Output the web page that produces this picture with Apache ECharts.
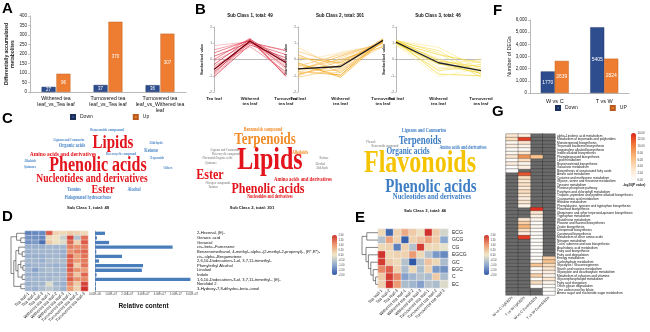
<!DOCTYPE html>
<html><head><meta charset="utf-8">
<script src="https://cdn.jsdelivr.net/npm/echarts@6/dist/echarts.min.js"></script>
<style>html,body{margin:0;padding:0;background:#fff}#c{width:650px;height:332px}</style>
</head><body><div id="c"></div>
<script>
// ---------------- DATA ----------------
const aCategories = ['Withered tea\nleaf_vs_Tea leaf', 'Turnovered tea\nleaf_vs_Tea leaf', 'Turnovered tea\nleaf_vs_Withered tea\nleaf'];
const aDown = [27, 37, 36];
const aUp = [96, 370, 307];

const bStages = ['Tea leaf', 'Withered\ntea leaf', 'Turnovered\ntea leaf'];
const bTitles = ['Sub Class 1, total: 49', 'Sub Class 2, total: 301', 'Sub Class 3, total: 46'];
const bSub1Lines = [[0.85,1.10,-0.30],[0.60,1.15,-0.20],[0.40,1.20,-0.50],[0.20,1.05,0.55],[-0.10,1.00,0.55],[-0.30,1.25,-0.10],[-0.50,1.10,-0.60],[-0.60,1.15,-0.85],[-0.75,1.00,0.30],[-0.85,1.20,-1.00],[-0.95,1.05,-0.40],[-1.05,0.90,0.10],[-1.10,1.15,-0.95],[-0.40,0.80,-0.75],[0.00,1.30,-1.05]];
const bSub1Mean = [-0.62, 1.12, -0.20];
const bSub2Lines = [[0.75,-0.60,0.85],[0.50,-0.30,1.00],[0.30,-0.80,1.10],[0.10,-0.20,1.15],[-0.10,0.40,0.95],[-0.30,-1.00,1.25],[-0.45,-0.45,1.15],[-0.55,-0.70,1.20],[-0.65,0.20,1.05],[-0.75,-0.95,1.25],[-0.85,0.45,0.90],[-0.95,-0.10,1.10],[-1.05,0.10,1.00],[-1.10,-0.55,1.20],[-0.90,-0.35,1.28],[-0.20,-1.10,1.15],[0.20,-0.65,0.80],[-0.60,0.00,0.78],[-0.80,-0.80,1.22],[-0.40,0.30,1.00]];
const bSub2Mean = [-0.58, -0.43, 1.18];
const bSub3Lines = [[1.15,0.75,-0.60],[1.10,0.55,-0.90],[1.05,0.30,-0.20],[1.00,0.10,-1.05],[1.20,-0.10,-0.45],[0.95,-0.30,0.00],[1.10,-0.50,-0.75],[1.05,-0.70,-0.30],[1.15,-0.90,-1.00],[0.90,-1.05,-0.55],[1.00,-0.25,-0.85],[1.20,0.40,-1.10],[0.88,-0.60,-0.10],[1.12,0.00,-0.65]];
const bSub3Mean = [1.07, -0.20, -0.68];

const fCategories = ['W vs C', 'T vs W'];
const fDown = [1770, 5405];
const fUp = [2639, 2824];

const dSamples = ['Tea leaf-1','Tea leaf-2','Tea leaf-3','Withered tea leaf-1','Withered tea leaf-2','Withered tea leaf-3','Turnovered tea leaf-1','Turnovered tea leaf-2','Turnovered tea leaf-3'];
const dCompounds = ['2-Hexenal, (E)-','Geranic acid','Geraniol','cis-.beta.-Farnesene','Benzenemethanol, 4-methyl-.alpha.-(2-methyl-2-propenyl)-, (R*,R*)-','cis-.alpha.-Bergamotene','2,6,10-Dodecatrien-1-ol, 3,7,11-trimethyl-','Phenylethyl Alcohol','Linalool','Indole','1,6,10-Dodecatrien-3-ol, 3,7,11-trimethyl-, (E)-','Nerolidol 2','3-Hydroxy-7,8-dihydro-.beta.-ionol'];
const dMatrix = [
 [-1.5,-1.4,-1.4,1.6,0.3,0.2,0.4,0.3,0.2],
 [-1.3,-1.3,-1.4,0.2,0.1,-0.4,1.8,-0.6,1.4],
 [-1.3,-1.2,-1.7,0.4,0.1,-0.2,1.5,0.3,1.6],
 [-0.9,-0.9,-0.9,-0.8,-0.8,-0.8,1.3,1.1,1.3],
 [-0.9,-0.8,-0.8,-0.8,-0.8,-0.9,1.1,1.3,1.5],
 [-0.9,-0.9,-0.9,-0.8,-0.8,-0.9,1.6,0.9,1.4],
 [-0.8,-0.8,-0.9,-0.7,-0.7,-0.7,1.5,1.0,1.3],
 [-0.9,-0.8,-0.8,-0.8,-0.9,-0.8,1.7,0.4,1.4],
 [-0.8,-1.1,-0.8,-0.7,-0.8,-0.8,1.6,1.1,1.0],
 [-0.9,-0.9,-0.8,-0.8,-0.8,-0.8,1.4,0.5,1.5],
 [-0.8,-0.8,-0.8,-0.8,-0.7,-0.8,1.6,1.1,1.2],
 [-0.9,-0.8,-0.8,-0.2,-0.8,-0.9,1.2,0.4,1.8],
 [-0.8,-0.9,-0.7,-0.5,-0.7,-0.9,1.0,0.3,2.0]];
const dContent = [6.2e6,1.2e6,8.7e6,4.8e7,0.8e6,1.67e7,2.5e6,2.97e7,2.9e7,1.0e6,5.9e7,0.6e6,0.6e6];
const dLinkage = [[1,2,0.3],[0,13,0.6],[4,5,0.2],[3,15,0.45],[7,8,0.15],[6,17,0.3],[9,10,0.2],[18,19,0.5],[16,20,0.65],[11,12,0.3],[21,22,0.8],[14,23,1.0]];
const dScaleTicks = {min:-2, max:2, step:0.5};

const eCompounds = ['ECG','GCG','CG','EGCG','GC','EGC','C','EC'];
const eMatrix = [
 [0.2,-1.8,0.3,0.8,0.4,0.1,2.0,0.4,-0.3],
 [-0.6,0.9,0.3,-1.9,0.3,0.5,0.9,0.4,-1.0],
 [0.2,0.3,-1.5,0.3,-0.6,1.9,0.2,0.2,-0.1],
 [2.0,0.2,0.3,0.3,1.0,0.2,-0.6,-1.2,-1.4],
 [1.9,0.4,0.2,-0.6,-2.0,-0.6,0.5,0.2,-0.7],
 [1.2,1.6,0.3,-0.7,0.2,-0.7,0.3,-1.2,-1.3],
 [0.4,1.9,1.2,-1.1,-0.8,-0.6,-0.7,0.4,-0.7],
 [0.3,2.0,1.0,-0.7,-0.8,-1.1,-0.6,-0.7,-0.2]];
const eLinkage = [[0,1,0.7],[6,7,0.15],[5,9,0.3],[4,10,0.45],[3,11,0.6],[2,12,0.75],[8,13,1.0]];

const gGroups = ['W vs C UpDEGs','T vs W UpDEGs','W vs C DownDEGs','T vs W DownDEGs'];
const gPathways = ['alpha-Linolenic acid metabolism','Metabolism of terpenoids and polyketides','Monoterpenoid biosynthesis','Terpenoid backbone biosynthesis','Isoquinoline alkaloid biosynthesis','Indole alkaloid biosynthesis','Phenylpropanoid biosynthesis','Lipid metabolism','Brassinosteroid biosynthesis','Galactose metabolism','Biosynthesis of unsaturated fatty acids','Amino acid metabolism','Cysteine and methionine metabolism','Glycine, serine and threonine metabolism','Tyrosine metabolism','Pentose phosphate pathway','Porphyrin and chlorophyll metabolism','Tropane, piperidine and pyridine alkaloid biosynthesis','Cyanoamino acid metabolism','Histidine metabolism','Phenylalanine, tyrosine and tryptophan biosynthesis','Flavonoid biosynthesis','Ubiquinone and other terpenoid-quinone biosynthesis','Tryptophan metabolism','Glutathione metabolism','Flavone and flavonol biosynthesis','Zeatin biosynthesis','Diterpenoid biosynthesis','Carotenoid biosynthesis','Metabolism of other amino acids','Nitrogen metabolism','Cutin, suberine and wax biosynthesis','Arachidonic acid metabolism','Fatty acid biosynthesis','Fatty acid degradation','Energy metabolism','Carbohydrate metabolism','Glycolysis / Gluconeogenesis','Starch and sucrose metabolism','Glyoxylate and dicarboxylate metabolism','Metabolism of cofactors and vitamins','Glycerophospholipid metabolism','Fatty acid elongation','Other glycan degradation','One carbon pool by folate','Amino sugar and nucleotide sugar metabolism'];
const _ = null;
const gMatrix = [
 [3,2,_,_],[4,13,_,_],[1,3,_,_],[2,1.5,_,_],[0.5,0.5,_,_],[1,3,_,_],[3,9,6,_],[0.5,4,_,_],[2,1,_,_],[0.3,2,_,_],
 [0.2,_,_,_],[_,12,_,_],[_,4,_,_],[_,3,_,_],[_,3.5,_,_],[_,2.5,_,_],[_,4,_,_],[_,3,_,_],[_,2,_,_],[_,3,_,_],
 [_,1.5,_,_],[_,_,13.5,_],[_,_,3,_],[_,_,2,_],[_,3,1,_],[_,5,0.5,_],[_,7,1,_],[_,4,0.5,_],[_,2,0.3,_],[_,13,0.5,_],
 [_,_,0.3,_],[_,_,0.2,_],[_,_,0.5,_],[_,_,0.3,_],[_,_,0.2,_],[_,_,0.4,5],[_,_,1,6],[_,_,6,4],[_,_,0.5,3],[_,_,1,2],
 [_,_,5,1],[_,_,0.5,3],[_,_,4,1],[_,_,0.3,0.5],[_,_,_,0.3],[_,_,_,0.2]];

const cloud1Words = ['Benzenoids compound','Lignans and Coumarins','Lipids','Organic acids','Aldehyde','Ketone','Heterocyclic compound','Amino acids and derivatives','Terpenoids','Alkaloids','Quinones','Phenolic acids','Others','Nucleotides and derivatives','Tannins','Ester','Alcohol','Halogenated hydrocarbons'];
const cloud1Weights = [3.5,3,15,4.5,3.5,4.5,3,5.5,3,3,3,16,3,9.5,4,10,4,4];
const cloud2Words = ['Benzenoids compound','Terpenoids','Lignans and Coumarins','Heterocyclic compound','Organic acids','Flavonoids','Quinones','Lipids','Alkaloids','Ketone','Alcohol','Aldehyde','Ester','Amino acids and derivatives','Nitrogen compounds','Tannins','Phenolic acids','Nucleotides and derivatives'];
const cloud2Weights = [4,13,2.8,2.8,2.8,2.8,2.8,24,4,3,3,3,12,4.8,2.8,2.8,12,3.9];
const cloud3Words = ['Lignans and Coumarins','Phenols','Terpenoids','Benzenoids compound','Amino acids and derivatives','Organic acids','Flavonoids','Phenolic acids','Nucleotides and derivatives'];
const cloud3Weights = [4.3,2.8,9,2.8,3.9,7.3,24,15,6.7];

// ---------------- LAYOUT / STYLE ----------------
const cloud1Pos = [[107,130],[69,140],[113,143],[72,145],[156,143],[151,150],[121,154],[63,154],[157,158],[30,161],[30,167],[98,166],[168,168],[92,179],[74,190],[103,190],[134,190],[88,198]];
const cloud2Pos = [[263,130],[265,140],[225,150],[226,154],[224,158],[209,158],[211,163],[270,161],[300,153],[324,158],[320,164],[322,168],[210,175],[303,179],[218,183],[213,187],[268,189],[270,197]];
const cloud3Pos = [[424,131],[371,142],[420,141],[385,146],[463,148],[408,152],[420,164],[431,187],[432,197]];
const RED='#E3141B', BLUE='#4A86C8', ORG='#F28C28', GRY='#9a9a9a', YEL='#F5C400', BLU3='#3C7DC4';
const cloud1Col = [BLUE,BLUE,RED,BLUE,BLUE,BLUE,BLUE,RED,BLUE,BLUE,BLUE,RED,BLUE,RED,BLUE,RED,BLUE,BLUE];
const cloud2Col = [ORG,ORG,GRY,GRY,GRY,GRY,GRY,RED,ORG,GRY,GRY,GRY,RED,RED,GRY,GRY,RED,RED];
const cloud3Col = [BLU3,GRY,BLU3,GRY,BLU3,BLU3,YEL,BLU3,BLU3];

const SANS = '"Liberation Sans", Arial, sans-serif';
const SERIF = '"Liberation Serif", "Times New Roman", serif';
const dePalette = ['#2F58A6','#8EA9CF','#EFE8C8','#EC9C74','#D1312B'];
const gPalette = ['#ffffff','#fde3c8','#f9b77a','#f07a3a','#e0241c'];

function dendro(n, linkage){
  const pos=[], h=[]; for(let i=0;i<n;i++){pos.push(i);h.push(0);}
  const segs=[];
  linkage.forEach(([a,b,ht])=>{
    segs.push({coords:[[h[a],pos[a]],[ht,pos[a]],[ht,pos[b]],[h[b],pos[b]]]});
    pos.push((pos[a]+pos[b])/2); h.push(ht);
  });
  return segs;
}
function matCells(m){ const out=[]; m.forEach((row,r)=>row.forEach((v,c)=>{ if(v!==null) out.push([c,r,v]); })); return out; }
function nullCells(m){ const out=[]; m.forEach((row,r)=>row.forEach((v,c)=>{ if(v===null) out.push([c,r,0]); })); return out; }
function sci(v){ if(v===0) return '0.00E+00'; const e=Math.floor(Math.log10(v)+1e-9); return (v/Math.pow(10,e)).toFixed(2)+'E+'+String(e).padStart(2,'0'); }

const chart = echarts.init(document.getElementById('c'));
const grids=[], xAxes=[], yAxes=[], series=[];
function add(s){ series.push(s); return series.length-1; }
const axLine = {show:true, lineStyle:{color:'#8a8a8a', width:0.6}};
const hidden = {show:false};
function G(l,t,w,h){ grids.push({left:l, top:t, width:w, height:h, outerBoundsMode:'none', containLabel:false}); }

// grid 0: A
G(30,16,156,76);
xAxes.push({gridIndex:0,type:'category',data:aCategories,axisLine:axLine,axisTick:{show:false},axisLabel:{interval:0,fontSize:5.2,color:'#111',fontFamily:SANS,lineHeight:6,margin:4}});
yAxes.push({gridIndex:0,type:'value',min:0,max:400,interval:50,axisLine:axLine,axisTick:{show:true,length:2,lineStyle:{color:'#8a8a8a',width:0.5}},splitLine:{show:false},
  axisLabel:{fontSize:4.5,color:'#222',margin:3,fontFamily:SANS},name:'Differentially accumulated\nmetabolites',nameLocation:'middle',nameGap:14,
  nameTextStyle:{fontSize:5,fontWeight:'bold',color:'#222',lineHeight:6,fontFamily:SANS}});
// grids 1-3: B
const bLeft=[214,298,396], bW=[72,85,85];
for(let k=0;k<3;k++){
  G(bLeft[k],27,bW[k],65);
  xAxes.push({gridIndex:1+k,type:'category',boundaryGap:false,data:bStages,axisLine:axLine,axisTick:{show:false},
    axisLabel:{interval:0,fontSize:4.3,fontWeight:'bold',color:'#222',lineHeight:5,margin:4,fontFamily:SANS}});
  yAxes.push({gridIndex:1+k,type:'value',min:-2,max:2,interval:1,axisLine:axLine,axisTick:{show:true,length:1.5,lineStyle:{color:'#8a8a8a',width:0.5}},splitLine:{show:false},
    axisLabel:{fontSize:3,color:'#555',margin:2,fontFamily:SANS},name:'Standardised value',nameLocation:'middle',nameGap:10,
    nameTextStyle:{fontSize:3.4,fontWeight:'bold',color:'#222',fontFamily:SANS}});
}
// grid 4: F
G(530,20,99,73);
xAxes.push({gridIndex:4,type:'category',data:fCategories,axisLine:axLine,axisTick:{show:false},axisLabel:{fontSize:5.5,color:'#111',margin:5,fontFamily:SANS}});
yAxes.push({gridIndex:4,type:'value',min:0,max:6000,interval:1000,axisLine:axLine,axisTick:{show:true,length:2,lineStyle:{color:'#8a8a8a',width:0.5}},splitLine:{show:false},
  axisLabel:{fontSize:4.5,color:'#222',margin:3,fontFamily:SANS},name:'Number of DEGs',nameLocation:'middle',nameGap:16,
  nameTextStyle:{fontSize:5.3,color:'#222',fontFamily:SANS}});
// grid 5: D heatmap
G(25,231,63,60);
xAxes.push({gridIndex:5,type:'category',data:dSamples,axisLine:hidden,axisTick:hidden,axisLabel:{rotate:45,interval:0,fontSize:4.2,color:'#222',margin:2,fontFamily:SANS}});
yAxes.push({gridIndex:5,type:'category',data:dCompounds,inverse:true,show:false});
// grid 6: D dendrogram
G(11,231,14,60);
xAxes.push({gridIndex:6,type:'value',inverse:true,min:0,max:1,show:false});
yAxes.push({gridIndex:6,type:'value',inverse:true,min:-0.5,max:dCompounds.length-0.5,show:false});
// grid 7: D bars
G(95,231,97,60);
xAxes.push({gridIndex:7,type:'value',min:0,max:6e7,interval:1e7,axisLine:axLine,axisTick:{show:true,length:1.5,lineStyle:{color:'#8a8a8a',width:0.5}},splitLine:{show:false},
  axisLabel:{fontSize:2.8,color:'#444',margin:2,formatter:sci,fontFamily:SANS},name:'Relative content',nameLocation:'middle',nameGap:12,
  nameTextStyle:{fontSize:6.5,fontWeight:'bold',color:'#111',fontFamily:SANS}});
yAxes.push({gridIndex:7,type:'category',data:dCompounds,inverse:true,position:'right',axisLine:hidden,axisTick:hidden,
  axisLabel:{interval:0,fontSize:4.1,color:'#111',margin:5,fontFamily:SANS}});
// grid 8: D colorbar ticks
G(332,235,5,40);
xAxes.push({gridIndex:8,type:'value',show:false});
yAxes.push({gridIndex:8,type:'value',min:dScaleTicks.min,max:dScaleTicks.max,interval:dScaleTicks.step,position:'right',axisLine:hidden,axisTick:hidden,splitLine:hidden,
  axisLabel:{fontSize:2.6,color:'#444',margin:1.5,formatter:v=>v.toFixed(2),fontFamily:SANS}});
// grid 9: E heatmap
G(378,229,70,59);
xAxes.push({gridIndex:9,type:'category',data:dSamples,axisLine:hidden,axisTick:hidden,axisLabel:{rotate:45,interval:0,fontSize:4.2,color:'#222',margin:2,fontFamily:SANS}});
yAxes.push({gridIndex:9,type:'category',data:eCompounds,inverse:true,position:'right',axisLine:hidden,axisTick:hidden,
  axisLabel:{interval:0,fontSize:5,color:'#222',margin:4,fontFamily:SANS}});
// grid 10: E dendrogram
G(362,229,16,59);
xAxes.push({gridIndex:10,type:'value',inverse:true,min:0,max:1,show:false});
yAxes.push({gridIndex:10,type:'value',inverse:true,min:-0.5,max:eCompounds.length-0.5,show:false});
// grid 11: E colorbar ticks
G(484,235,5,40);
xAxes.push({gridIndex:11,type:'value',show:false});
yAxes.push({gridIndex:11,type:'value',min:-2,max:2,interval:0.5,position:'right',axisLine:hidden,axisTick:hidden,splitLine:hidden,
  axisLabel:{fontSize:2.6,color:'#444',margin:1.5,formatter:v=>v.toFixed(2),fontFamily:SANS}});
// grid 12: G heatmap
G(506,134,49,161);
xAxes.push({gridIndex:12,type:'category',data:gGroups,axisLine:hidden,axisTick:hidden,axisLabel:{rotate:45,interval:0,fontSize:3.6,color:'#222',margin:2,fontFamily:SANS}});
yAxes.push({gridIndex:12,type:'category',data:gPathways,inverse:true,position:'right',axisLine:hidden,axisTick:hidden,
  axisLabel:{interval:0,fontSize:3.2,color:'#111',margin:2,fontFamily:SANS}});
// grid 13: G colorbar ticks
G(631,133,5,47);
xAxes.push({gridIndex:13,type:'value',show:false});
yAxes.push({gridIndex:13,type:'value',min:0,max:14,interval:2,position:'right',axisLine:hidden,axisTick:hidden,splitLine:hidden,
  axisLabel:{fontSize:2.8,color:'#444',margin:1.5,formatter:v=>v.toFixed(2),fontFamily:SANS}});
// extra y axis 14: D bars baseline
yAxes.push({gridIndex:7,type:'category',data:dCompounds,inverse:true,position:'left',axisLine:axLine,axisTick:hidden,axisLabel:hidden});

// ---------------- SERIES ----------------
const lbl = {show:true,position:'inside',color:'#fff',fontSize:4.5,fontFamily:SANS};
add({type:'bar',name:'Down',xAxisIndex:0,yAxisIndex:0,data:aDown,barWidth:14,barGap:'6%',itemStyle:{color:'#2E4D8E',borderColor:'#1c2f58',borderWidth:0.4},label:lbl});
add({type:'bar',name:'Up',xAxisIndex:0,yAxisIndex:0,data:aUp,barWidth:14,itemStyle:{color:'#EE7D31',borderColor:'#b85a1c',borderWidth:0.4},label:lbl});

const bPal = [['#f4a0a8','#ee6a78','#e23a4c','#d41f35','#f08090','#c8102e'],
              ['#fbd38a','#f8c060','#f5a623','#f0a000','#fce0a8','#f3b23a'],
              ['#fbe98a','#f7dc50','#f2d01a','#fdf0b0','#edc800','#f5e070']];
const bMeanCol = ['#7a0010','#1a1a1a','#222222'];
[[bSub1Lines,bSub1Mean],[bSub2Lines,bSub2Mean],[bSub3Lines,bSub3Mean]].forEach(([lines,mean],k)=>{
  lines.forEach((l,i)=>add({type:'line',xAxisIndex:1+k,yAxisIndex:1+k,data:l,symbol:'none',silent:true,z:2,
    lineStyle:{width:0.7,color:bPal[k][i%bPal[k].length],opacity:0.9}}));
  add({type:'line',xAxisIndex:1+k,yAxisIndex:1+k,data:mean,symbol:'none',silent:true,z:3,lineStyle:{width:1.3,color:bMeanCol[k]}});
});

const lblF = {show:true,position:'inside',color:'#fff',fontSize:5,fontFamily:SANS};
add({type:'bar',name:'Down',xAxisIndex:4,yAxisIndex:4,data:fDown,barWidth:14,barGap:'0%',itemStyle:{color:'#2E4D8E',borderColor:'#1c2f58',borderWidth:0.4},label:lblF});
add({type:'bar',name:'UP',xAxisIndex:4,yAxisIndex:4,data:fUp,barWidth:14,itemStyle:{color:'#EE7D31',borderColor:'#b85a1c',borderWidth:0.4},label:lblF});

const idxD = add({type:'heatmap',xAxisIndex:5,yAxisIndex:5,data:matCells(dMatrix),itemStyle:{borderColor:'#f2f2f2',borderWidth:0.4},silent:true});
add({type:'lines',coordinateSystem:'cartesian2d',xAxisIndex:6,yAxisIndex:6,polyline:true,data:dendro(dCompounds.length,dLinkage),lineStyle:{color:'#333',width:0.6,opacity:1},silent:true});
add({type:'bar',xAxisIndex:7,yAxisIndex:7,data:dContent,barWidth:'72%',itemStyle:{color:'#4A7EBB'},silent:true});
const idxE = add({type:'heatmap',xAxisIndex:9,yAxisIndex:9,data:matCells(eMatrix),itemStyle:{borderColor:'#f2f2f2',borderWidth:0.5},silent:true});
add({type:'lines',coordinateSystem:'cartesian2d',xAxisIndex:10,yAxisIndex:10,polyline:true,data:dendro(eCompounds.length,eLinkage),lineStyle:{color:'#333',width:0.6,opacity:1},silent:true});
add({type:'heatmap',xAxisIndex:12,yAxisIndex:12,data:nullCells(gMatrix),itemStyle:{color:'#6B6B6B',borderColor:'#2a2a2a',borderWidth:0.35},silent:true});
const idxG = add({type:'heatmap',xAxisIndex:12,yAxisIndex:12,data:matCells(gMatrix),itemStyle:{borderColor:'#2a2a2a',borderWidth:0.35},silent:true});

// ---------------- GRAPHIC TEXT ----------------
const graphic = [];
function T(x,y,text,opt){ graphic.push(Object.assign({type:'text',x:x,y:y,silent:true,style:Object.assign({text:text,fill:'#111',align:'center',verticalAlign:'middle'},opt.style||{})},opt.el||{})); }
[['A',2,1],['B',195,2],['F',493,3],['C',2,111],['G',492,104],['D',2,209],['E',355,210]].forEach(([t,x,y])=>
  T(x,y,t,{style:{font:'bold 15px '+SANS,align:'left',verticalAlign:'top',fill:'#000'}}));
const bTitleX=[250,340,438];
bTitles.forEach((t,k)=>T(bTitleX[k],16,t,{style:{font:'bold 4.5px '+SANS}}));
const cloudTitleX=[[88,208],[252,208],[425,211]];
bTitles.forEach((t,k)=>T(cloudTitleX[k][0],cloudTitleX[k][1],t,{style:{font:'bold 4.2px '+SANS}}));
[[cloud1Words,cloud1Weights,cloud1Pos,cloud1Col],[cloud2Words,cloud2Weights,cloud2Pos,cloud2Col],[cloud3Words,cloud3Weights,cloud3Pos,cloud3Col]].forEach(([w,s,p,c])=>{
  w.forEach((word,i)=>T(p[i][0],p[i][1],word,{style:{font:'bold '+s[i]+'px '+SERIF,fill:c[i]},el:{scaleY:1.3,originX:0,originY:0}}));
});
T(634,185,'-log10(P value)',{style:{font:'bold 3.2px '+SANS}});

chart.setOption({
  animation:false,
  grid:grids, xAxis:xAxes, yAxis:yAxes, series:series, graphic:graphic,
  legend:[
    {data:['Down','Up'],left:70,top:114,itemWidth:4,itemHeight:4,itemGap:40,icon:'rect',padding:0,textStyle:{fontSize:5,color:'#222',fontFamily:SANS}},
    {data:['Down','UP'],left:555,top:105,itemWidth:4,itemHeight:4,itemGap:32,icon:'rect',padding:0,textStyle:{fontSize:5,color:'#222',fontFamily:SANS}}
  ],
  visualMap:[
    {type:'continuous',seriesIndex:idxD,min:-2,max:2,inRange:{color:dePalette},left:332,top:235,itemWidth:5,itemHeight:40,calculable:false,padding:0,orient:'vertical'},
    {type:'continuous',seriesIndex:idxE,min:-2,max:2,inRange:{color:dePalette},left:484,top:235,itemWidth:5,itemHeight:40,calculable:false,padding:0,orient:'vertical'},
    {type:'continuous',seriesIndex:idxG,min:0,max:14,inRange:{color:gPalette},left:631,top:133,itemWidth:5,itemHeight:47,calculable:false,padding:0,orient:'vertical',
     borderColor:'#999'}
  ]
});
</script></body></html>
